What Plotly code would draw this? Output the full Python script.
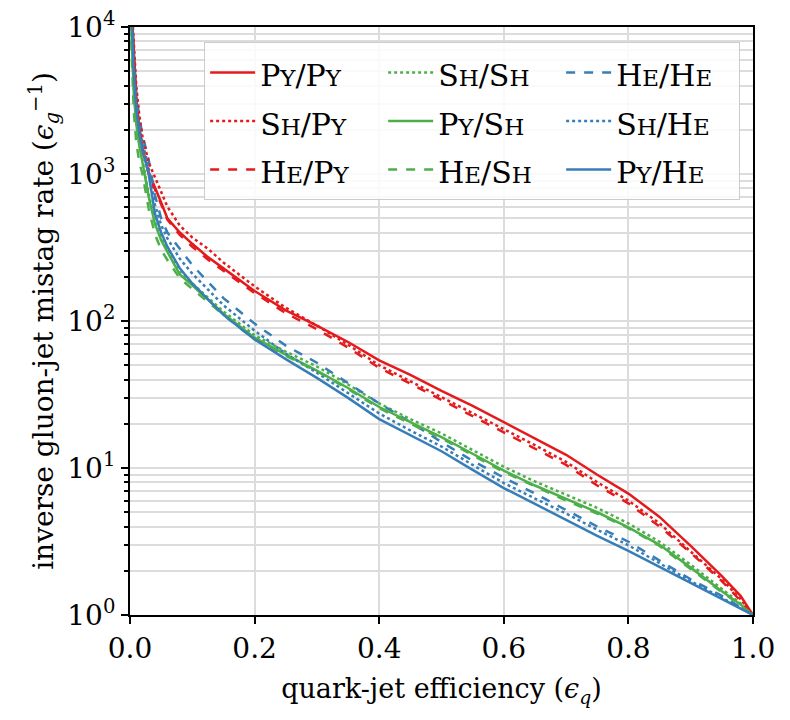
import plotly.graph_objects as go

# quark-jet efficiency grid
eff = [0.002, 0.006, 0.01, 0.015, 0.02, 0.03, 0.04, 0.05, 0.06, 0.08, 0.1, 0.125, 0.15, 0.2,
       0.25, 0.3, 0.35, 0.4, 0.45, 0.5, 0.55, 0.6, 0.65, 0.7, 0.75, 0.8, 0.85, 0.9, 0.95, 0.98, 1.0]

# inverse gluon mistag rate, quark sample / gluon sample
py_py = [15000, 6500, 3300, 2000, 1500, 1030, 800, 640, 500, 400, 335, 272, 228, 160,
         118, 93, 72, 54, 43, 33.5, 26.5, 20.5, 16, 12.3, 9.0, 6.7, 4.65, 2.95, 1.84, 1.35, 1.0]
sh_py = [16000, 7500, 4000, 2500, 1800, 1200, 960, 760, 600, 445, 370, 310, 250, 172,
         123, 93, 69, 50, 39, 30.5, 23.5, 18.4, 14.3, 11.0, 8.0, 6.0, 4.2, 2.7, 1.75, 1.28, 1.0]
he_py = [14000, 6000, 3200, 1950, 1450, 1000, 790, 620, 490, 385, 320, 262, 220, 155,
         113, 88, 66, 48, 37.5, 29, 22.5, 17.4, 13.5, 10.5, 7.6, 5.75, 4.0, 2.65, 1.7, 1.25, 1.0]
sh_sh = [11000, 3800, 2300, 1600, 1250, 730, 480, 370, 305, 215, 180, 145, 116, 80,
         62, 49, 37, 27.5, 21.5, 17.2, 13.3, 10.2, 8.1, 6.6, 5.35, 4.2, 3.15, 2.2, 1.5, 1.2, 1.0]
py_sh = [10000, 3600, 2200, 1550, 1200, 700, 460, 355, 295, 207, 175, 140, 112, 77,
         59, 46, 35, 26, 20.5, 16.2, 12.5, 9.6, 7.6, 6.2, 5.0, 3.95, 3.0, 2.1, 1.45, 1.18, 1.0]
he_sh = [8000, 2700, 1650, 1200, 1000, 580, 390, 305, 260, 195, 165, 135, 110, 75,
         58, 45.5, 34.5, 25.5, 20, 15.9, 12.3, 9.4, 7.5, 6.0, 4.9, 3.9, 2.95, 2.05, 1.43, 1.17, 1.0]
he_he = [16000, 6500, 3600, 2400, 1850, 1250, 720, 500, 400, 310, 240, 185, 143, 96,
         68, 52, 38, 27.5, 20.5, 15, 11.2, 8.6, 6.7, 5.2, 4.0, 3.15, 2.35, 1.75, 1.35, 1.13, 1.0]
sh_he = [15000, 5800, 3200, 2100, 1650, 1100, 620, 450, 365, 265, 210, 165, 128, 86,
         60, 44.5, 32.5, 23.5, 18, 14, 10.5, 7.9, 6.2, 4.9, 3.8, 2.98, 2.25, 1.7, 1.31, 1.12, 1.0]
py_he = [14000, 5000, 2800, 1900, 1450, 1000, 540, 400, 320, 228, 180, 140, 110, 75,
         55, 41, 30, 21.5, 16.7, 13, 9.7, 7.3, 5.7, 4.45, 3.45, 2.73, 2.12, 1.66, 1.28, 1.1, 1.0]

RED, GREEN, BLUE = "#e41a1c", "#4daf4a", "#377eb8"


def big(s):
    return "<span style='font-size:30px'>" + s + "</span>"


def small(s):
    return "<span style='font-size:23px'>" + s + "</span>"


def lab(q, g):
    # fake small caps, e.g. Py -> P + small Y
    return big(q[0]) + small(q[1].upper()) + big("/" + g[0]) + small(g[1].upper())


# row-wise order so the horizontal legend reads column-wise like the reference
series = [
    ("Py", "Py", py_py, RED, "solid"),
    ("Sh", "Sh", sh_sh, GREEN, "dot"),
    ("He", "He", he_he, BLUE, "dash"),
    ("Sh", "Py", sh_py, RED, "dot"),
    ("Py", "Sh", py_sh, GREEN, "solid"),
    ("Sh", "He", sh_he, BLUE, "dot"),
    ("He", "Py", he_py, RED, "dash"),
    ("He", "Sh", he_sh, GREEN, "dash"),
    ("Py", "He", py_he, BLUE, "solid"),
]

fig = go.Figure()
for q, g, vals, col, dash in series:
    fig.add_trace(go.Scatter(x=eff, y=vals, mode="lines", name=lab(q, g),
                             line=dict(color=col, dash=dash, width=2.5)))

FONT = "DejaVu Serif"
GRID = "#dcdcdc"
minor_vals = [m * 10 ** k for k in range(4) for m in range(2, 10)]

fig.update_layout(
    width=790, height=720,
    margin=dict(l=122, r=45, t=19, b=113),
    plot_bgcolor="white", paper_bgcolor="white",
    font=dict(family=FONT, size=25, color="black"),
    legend=dict(orientation="h", x=0.119, y=0.974, xanchor="left", yanchor="top",
                itemwidth=45, entrywidth=118, entrywidthmode="pixels",
                bgcolor="rgba(255,255,255,0.85)", bordercolor="#cccccc", borderwidth=1,
                font=dict(family=FONT, size=35)),
    xaxis=dict(range=[0, 1], tick0=0, dtick=0.2, tickformat=".1f", automargin=False,
               ticklabeloverflow="allow",
               showline=True, linecolor="black", linewidth=2, mirror=True,
               ticks="outside", ticklen=7, tickwidth=2, tickcolor="black",
               showgrid=True, gridcolor=GRID, gridwidth=1.5, zeroline=False,
               tickfont=dict(size=28),
               title=dict(text="quark-jet efficiency (<i>ϵ<sub>q</sub></i>)", font=dict(size=27),
                          standoff=16)),
    yaxis=dict(type="log", range=[0, 4], tickmode="array", automargin=False,
               ticklabeloverflow="allow",
               tickvals=[1, 10, 100, 1000, 10000],
               ticktext=["10<sup>0</sup>", "10<sup>1</sup>", "10<sup>2</sup>",
                         "10<sup>3</sup>", "10<sup>4</sup>"],
               showline=True, linecolor="black", linewidth=2, mirror=True,
               ticks="outside", ticklen=7, tickwidth=2, tickcolor="black",
               showgrid=True, gridcolor=GRID, gridwidth=1.5, zeroline=False,
               tickfont=dict(size=28),
               minor=dict(tickmode="array", tickvals=minor_vals, ticks="outside",
                          ticklen=4, tickwidth=1.5, tickcolor="black",
                          showgrid=True, gridcolor=GRID, gridwidth=1.5),
               title=dict(text="inverse gluon-jet mistag rate (<i>ϵ<sub>g</sub></i><sup>−1</sup>)",
                          font=dict(size=28), standoff=5)),
)

fig.write_html("out.html")
